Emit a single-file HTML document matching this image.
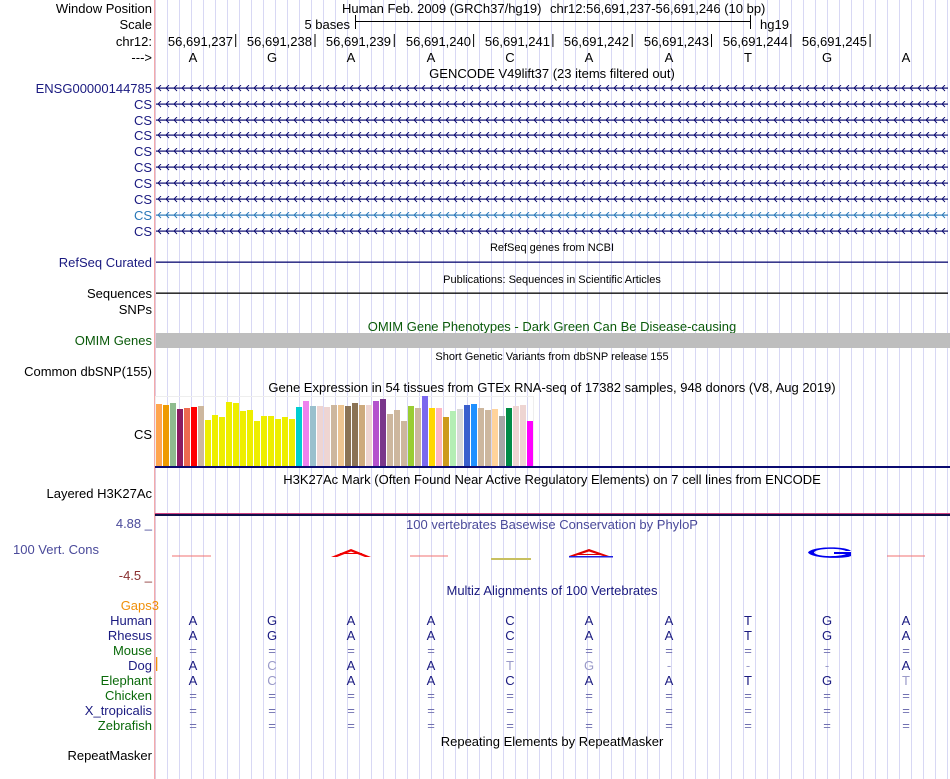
<!DOCTYPE html>
<html><head><meta charset="utf-8"><style>
html,body{margin:0;padding:0;background:#fff}
svg{display:block}
text{font-family:"Liberation Sans",Arial,sans-serif}
</style></head><body>
<svg width="950" height="779" viewBox="0 0 950 779" xmlns="http://www.w3.org/2000/svg">
<defs>
<pattern id="grid" x="167" y="0" width="12" height="10" patternUnits="userSpaceOnUse">
<rect x="0" y="0" width="1" height="10" fill="#d8d8f4"/>
</pattern>
<pattern id="c88" x="157" y="85" width="8" height="7" patternUnits="userSpaceOnUse"><path d="M4,0 L1,3 L4,6" fill="none" stroke="#0a0a70" stroke-width="0.9"/></pattern>
<pattern id="cb" x="157" y="212" width="8" height="7" patternUnits="userSpaceOnUse"><path d="M4,0 L1,3 L4,6" fill="none" stroke="#2a78b8" stroke-width="0.9"/></pattern>
</defs>
<rect x="155" y="0" width="795" height="779" fill="url(#grid)"/>
<rect x="154" y="0" width="1.3" height="779" fill="#f4aaaa"/>

<!-- header -->
<g font-size="13" fill="#000">
<text x="152" y="13" text-anchor="end">Window Position</text>
<text x="152" y="29" text-anchor="end">Scale</text>
<text x="152" y="46" text-anchor="end">chr12:</text>
<text x="152" y="62" text-anchor="end">---&gt;</text>
<text x="342" y="13">Human Feb. 2009 (GRCh37/hg19)</text>
<text x="550" y="13">chr12:56,691,237-56,691,246 (10 bp)</text>
<text x="350" y="29" text-anchor="end">5 bases</text>
<text x="760" y="29">hg19</text>
</g>
<line x1="355" y1="21.5" x2="751" y2="21.5" stroke="#000"/>
<line x1="355.5" y1="15" x2="355.5" y2="29" stroke="#000"/>
<line x1="750.5" y1="15" x2="750.5" y2="29" stroke="#000"/>
<g font-size="13" text-anchor="end">
<text x="233" y="46">56,691,237</text><text x="312" y="46">56,691,238</text><text x="391" y="46">56,691,239</text><text x="471" y="46">56,691,240</text><text x="550" y="46">56,691,241</text><text x="629" y="46">56,691,242</text><text x="709" y="46">56,691,243</text><text x="788" y="46">56,691,244</text><text x="867" y="46">56,691,245</text>
</g>
<g stroke="#000">
<line x1="235.7" y1="34" x2="235.7" y2="47"/><line x1="315" y1="34" x2="315" y2="47"/><line x1="394.3" y1="34" x2="394.3" y2="47"/><line x1="473.6" y1="34" x2="473.6" y2="47"/><line x1="552.9" y1="34" x2="552.9" y2="47"/><line x1="632.2" y1="34" x2="632.2" y2="47"/><line x1="711.5" y1="34" x2="711.5" y2="47"/><line x1="790.8" y1="34" x2="790.8" y2="47"/><line x1="870.1" y1="34" x2="870.1" y2="47"/>
</g>
<g font-size="13" text-anchor="middle">
<text x="193" y="62">A</text><text x="272" y="62">G</text><text x="351" y="62">A</text><text x="431" y="62">A</text><text x="510" y="62">C</text><text x="589" y="62">A</text><text x="669" y="62">A</text><text x="748" y="62">T</text><text x="827" y="62">G</text><text x="906" y="62">A</text>
</g>

<!-- GENCODE -->
<text x="552" y="78" font-size="13" text-anchor="middle">GENCODE V49lift37 (23 items filtered out)</text>
<g font-size="13" fill="#1a1a80" text-anchor="end">
<text x="152" y="93">ENSG00000144785</text>
<text x="152" y="109">CS</text><text x="152" y="125">CS</text><text x="152" y="140">CS</text><text x="152" y="156">CS</text><text x="152" y="172">CS</text><text x="152" y="188">CS</text><text x="152" y="204">CS</text>
<text x="152" y="220" fill="#2a78b8">CS</text>
<text x="152" y="236">CS</text>
</g>
<g fill="#0a0a70">
<rect x="156" y="87.5" width="792" height="1.2"/>
<rect x="156" y="103.5" width="792" height="1.2"/><rect x="156" y="119.5" width="792" height="1.2"/><rect x="156" y="134.5" width="792" height="1.2"/><rect x="156" y="150.5" width="792" height="1.2"/><rect x="156" y="166.5" width="792" height="1.2"/><rect x="156" y="182.5" width="792" height="1.2"/><rect x="156" y="198.5" width="792" height="1.2"/><rect x="156" y="230.5" width="792" height="1.2"/>
</g>
<rect x="156" y="214.5" width="792" height="1.2" fill="#2a78b8"/>
<g>
<rect x="156" y="85" width="792" height="7" fill="url(#c88)"/>
<rect x="156" y="85" width="792" height="7" fill="url(#c88)" transform="translate(0,16)"/>
<rect x="156" y="85" width="792" height="7" fill="url(#c88)" transform="translate(0,32)"/>
<rect x="156" y="85" width="792" height="7" fill="url(#c88)" transform="translate(0,47)"/>
<rect x="156" y="85" width="792" height="7" fill="url(#c88)" transform="translate(0,63)"/>
<rect x="156" y="85" width="792" height="7" fill="url(#c88)" transform="translate(0,79)"/>
<rect x="156" y="85" width="792" height="7" fill="url(#c88)" transform="translate(0,95)"/>
<rect x="156" y="85" width="792" height="7" fill="url(#c88)" transform="translate(0,111)"/>
<rect x="156" y="212" width="792" height="7" fill="url(#cb)"/>
<rect x="156" y="85" width="792" height="7" fill="url(#c88)" transform="translate(0,143)"/>
</g>

<!-- RefSeq etc -->
<text x="552" y="251" font-size="11" text-anchor="middle">RefSeq genes from NCBI</text>
<text x="152" y="267" font-size="13" fill="#1a1a80" text-anchor="end">RefSeq Curated</text>
<rect x="156" y="261.5" width="792" height="1.3" fill="#0a0a70"/>
<text x="552" y="283" font-size="11" text-anchor="middle">Publications: Sequences in Scientific Articles</text>
<text x="152" y="298" font-size="13" text-anchor="end">Sequences</text>
<rect x="156" y="292.5" width="792" height="1.3" fill="#000"/>
<text x="152" y="314" font-size="13" text-anchor="end">SNPs</text>
<text x="552" y="331" font-size="13" fill="#0a5a0a" text-anchor="middle">OMIM Gene Phenotypes - Dark Green Can Be Disease-causing</text>
<text x="152" y="345" font-size="13" fill="#0a5a0a" text-anchor="end">OMIM Genes</text>
<rect x="156" y="333" width="794" height="15" fill="#bebebe"/>
<text x="552" y="360" font-size="11" text-anchor="middle">Short Genetic Variants from dbSNP release 155</text>
<text x="152" y="376" font-size="13" text-anchor="end">Common dbSNP(155)</text>
<text x="552" y="392" font-size="13" text-anchor="middle">Gene Expression in 54 tissues from GTEx RNA-seq of 17382 samples, 948 donors (V8, Aug 2019)</text>
<text x="152" y="439" font-size="13" text-anchor="end">CS</text>
<rect x="155.5" y="396.5" width="378" height="70" fill="none" stroke="#eeeeee"/>
<g>
<rect x="156" y="404" width="6" height="62" fill="#FFA54F"/>
<rect x="163" y="405" width="6" height="61" fill="#EE9A00"/>
<rect x="170" y="403" width="6" height="63" fill="#8FBC8F"/>
<rect x="177" y="409" width="6" height="57" fill="#8B1C62"/>
<rect x="184" y="408" width="6" height="58" fill="#EE6A50"/>
<rect x="191" y="407" width="6" height="59" fill="#FF0000"/>
<rect x="198" y="406" width="6" height="60" fill="#CDB79E"/>
<rect x="205" y="420" width="6" height="46" fill="#EEEE00"/>
<rect x="212" y="415" width="6" height="51" fill="#EEEE00"/>
<rect x="219" y="417" width="6" height="49" fill="#EEEE00"/>
<rect x="226" y="402" width="6" height="64" fill="#EEEE00"/>
<rect x="233" y="403" width="6" height="63" fill="#EEEE00"/>
<rect x="240" y="411" width="6" height="55" fill="#EEEE00"/>
<rect x="247" y="410" width="6" height="56" fill="#EEEE00"/>
<rect x="254" y="421" width="6" height="45" fill="#EEEE00"/>
<rect x="261" y="416" width="6" height="50" fill="#EEEE00"/>
<rect x="268" y="416" width="6" height="50" fill="#EEEE00"/>
<rect x="275" y="419" width="6" height="47" fill="#EEEE00"/>
<rect x="282" y="417" width="6" height="49" fill="#EEEE00"/>
<rect x="289" y="419" width="6" height="47" fill="#EEEE00"/>
<rect x="296" y="407" width="6" height="59" fill="#00CED1"/>
<rect x="303" y="401" width="6" height="65" fill="#EE82EE"/>
<rect x="310" y="406" width="6" height="60" fill="#9AC0CD"/>
<rect x="317" y="406" width="6" height="60" fill="#EED5D2"/>
<rect x="324" y="407" width="6" height="59" fill="#EED5D2"/>
<rect x="331" y="405" width="6" height="61" fill="#CDB79E"/>
<rect x="338" y="405" width="6" height="61" fill="#EEC591"/>
<rect x="345" y="406" width="6" height="60" fill="#8B7355"/>
<rect x="352" y="403" width="6" height="63" fill="#8B7355"/>
<rect x="359" y="405" width="6" height="61" fill="#CDAA7D"/>
<rect x="366" y="405" width="6" height="61" fill="#EED5D2"/>
<rect x="373" y="401" width="6" height="65" fill="#B452CD"/>
<rect x="380" y="399" width="6" height="67" fill="#7A378B"/>
<rect x="387" y="414" width="6" height="52" fill="#CDB79E"/>
<rect x="394" y="410" width="6" height="56" fill="#CDB79E"/>
<rect x="401" y="421" width="6" height="45" fill="#CDB79E"/>
<rect x="408" y="406" width="6" height="60" fill="#9ACD32"/>
<rect x="415" y="408" width="6" height="58" fill="#CDB79E"/>
<rect x="422" y="396" width="6" height="70" fill="#7B68EE"/>
<rect x="429" y="408" width="6" height="58" fill="#FFD700"/>
<rect x="436" y="408" width="6" height="58" fill="#FFB6C1"/>
<rect x="443" y="417" width="6" height="49" fill="#CD9B1D"/>
<rect x="450" y="411" width="6" height="55" fill="#B4EEB4"/>
<rect x="457" y="409" width="6" height="57" fill="#D9D9D9"/>
<rect x="464" y="405" width="6" height="61" fill="#3A5FCD"/>
<rect x="471" y="404" width="6" height="62" fill="#1E90FF"/>
<rect x="478" y="408" width="6" height="58" fill="#CDB79E"/>
<rect x="485" y="410" width="6" height="56" fill="#CDB79E"/>
<rect x="492" y="409" width="6" height="57" fill="#FFD39B"/>
<rect x="499" y="416" width="6" height="50" fill="#A6A6A6"/>
<rect x="506" y="408" width="6" height="58" fill="#008B45"/>
<rect x="513" y="406" width="6" height="60" fill="#EED5D2"/>
<rect x="520" y="405" width="6" height="61" fill="#EED5D2"/>
<rect x="527" y="421" width="6" height="45" fill="#FF00FF"/>
</g>
<rect x="155" y="466" width="795" height="2" fill="#0a0a70"/>

<!-- H3K27Ac -->
<text x="552" y="484" font-size="13" text-anchor="middle">H3K27Ac Mark (Often Found Near Active Regulatory Elements) on 7 cell lines from ENCODE</text>
<text x="152" y="498" font-size="13" text-anchor="end">Layered H3K27Ac</text>
<rect x="155" y="513" width="795" height="1" fill="#d04080"/>
<rect x="155" y="514" width="795" height="2" fill="#10104a"/>

<!-- Conservation -->
<text x="552" y="529" font-size="13" fill="#4a4a9a" text-anchor="middle">100 vertebrates Basewise Conservation by PhyloP</text>
<text x="152" y="528" font-size="13" fill="#4a4a9a" text-anchor="end">4.88 _</text>
<text x="99" y="554" font-size="13" fill="#4a4a9a" text-anchor="end">100 Vert. Cons</text>
<text x="152" y="580" font-size="13" fill="#8a3030" text-anchor="end">-4.5 _</text>
<rect x="172" y="555.5" width="39" height="1" fill="#f07070"/>
<rect x="410" y="555.5" width="38" height="1" fill="#f07070"/>
<rect x="887" y="555.5" width="38" height="1" fill="#f07070"/>
<rect x="491" y="558" width="40" height="2" fill="#c8c060"/>
<path d="M331,557 L351,549 L371,557 L365,557 L351,551.5 L337,557Z" fill="#f00000"/>
<rect x="340" y="553" width="22" height="1" fill="#f00000"/>
<path d="M569,556 L589,549 L609,556 L603,556 L589,551.5 L575,556Z" fill="#e00000"/>
<rect x="578" y="554" width="22" height="1" fill="#e00000"/>
<rect x="569" y="556" width="44" height="1.5" fill="#2020e0"/>
<path d="M851,551 C846,546 812,546 808,552.5 C812,559 846,559 851,556 L851,552 L834,552 L834,554 L846,554 C840,557 816,557 814,552.5 C816,548 840,548 846,551Z" fill="#0000ee"/>

<!-- Multiz -->
<text x="552" y="595" font-size="13" fill="#1a1a80" text-anchor="middle">Multiz Alignments of 100 Vertebrates</text>
<g font-size="13" text-anchor="end">
<text x="159" y="610" fill="#f0900a">Gaps3</text>
<text x="152" y="625" fill="#1a1a80">Human</text>
<text x="152" y="640" fill="#1a1a80">Rhesus</text>
<text x="152" y="655" fill="#0a6a0a">Mouse</text>
<text x="152" y="670" fill="#1a1a80">Dog</text>
<text x="152" y="685" fill="#0a6a0a">Elephant</text>
<text x="152" y="700" fill="#0a6a0a">Chicken</text>
<text x="152" y="715" fill="#1a1a80">X_tropicalis</text>
<text x="152" y="730" fill="#0a6a0a">Zebrafish</text>
<text x="152" y="760" fill="#000">RepeatMasker</text>
</g>
<rect x="156" y="657" width="1.3" height="14" fill="#f0900a"/>
<g font-size="13" text-anchor="middle" fill="#1a1a80">
<g transform="translate(0,625)"><text x="193">A</text><text x="272">G</text><text x="351">A</text><text x="431">A</text><text x="510">C</text><text x="589">A</text><text x="669">A</text><text x="748">T</text><text x="827">G</text><text x="906">A</text></g>
<g transform="translate(0,640)"><text x="193">A</text><text x="272">G</text><text x="351">A</text><text x="431">A</text><text x="510">C</text><text x="589">A</text><text x="669">A</text><text x="748">T</text><text x="827">G</text><text x="906">A</text></g>
<g transform="translate(0,670)"><text x="193">A</text><text x="272" fill="#9a9ac8">C</text><text x="351">A</text><text x="431">A</text><text x="510" fill="#9a9ac8">T</text><text x="589" fill="#9a9ac8">G</text><text x="669" fill="#9a9ac8">-</text><text x="748" fill="#9a9ac8">-</text><text x="827" fill="#9a9ac8">-</text><text x="906">A</text></g>
<g transform="translate(0,685)"><text x="193">A</text><text x="272" fill="#9a9ac8">C</text><text x="351">A</text><text x="431">A</text><text x="510">C</text><text x="589">A</text><text x="669">A</text><text x="748">T</text><text x="827">G</text><text x="906" fill="#9a9ac8">T</text></g>
</g>
<g font-size="13" text-anchor="middle" fill="#7070b0">
<g transform="translate(0,655)"><text x="193">=</text><text x="272">=</text><text x="351">=</text><text x="431">=</text><text x="510">=</text><text x="589">=</text><text x="669">=</text><text x="748">=</text><text x="827">=</text><text x="906">=</text></g>
<g transform="translate(0,700)"><text x="193">=</text><text x="272">=</text><text x="351">=</text><text x="431">=</text><text x="510">=</text><text x="589">=</text><text x="669">=</text><text x="748">=</text><text x="827">=</text><text x="906">=</text></g>
<g transform="translate(0,715)"><text x="193">=</text><text x="272">=</text><text x="351">=</text><text x="431">=</text><text x="510">=</text><text x="589">=</text><text x="669">=</text><text x="748">=</text><text x="827">=</text><text x="906">=</text></g>
<g transform="translate(0,730)"><text x="193">=</text><text x="272">=</text><text x="351">=</text><text x="431">=</text><text x="510">=</text><text x="589">=</text><text x="669">=</text><text x="748">=</text><text x="827">=</text><text x="906">=</text></g>
</g>
<text x="552" y="746" font-size="13" text-anchor="middle">Repeating Elements by RepeatMasker</text>
</svg>
</body></html>
